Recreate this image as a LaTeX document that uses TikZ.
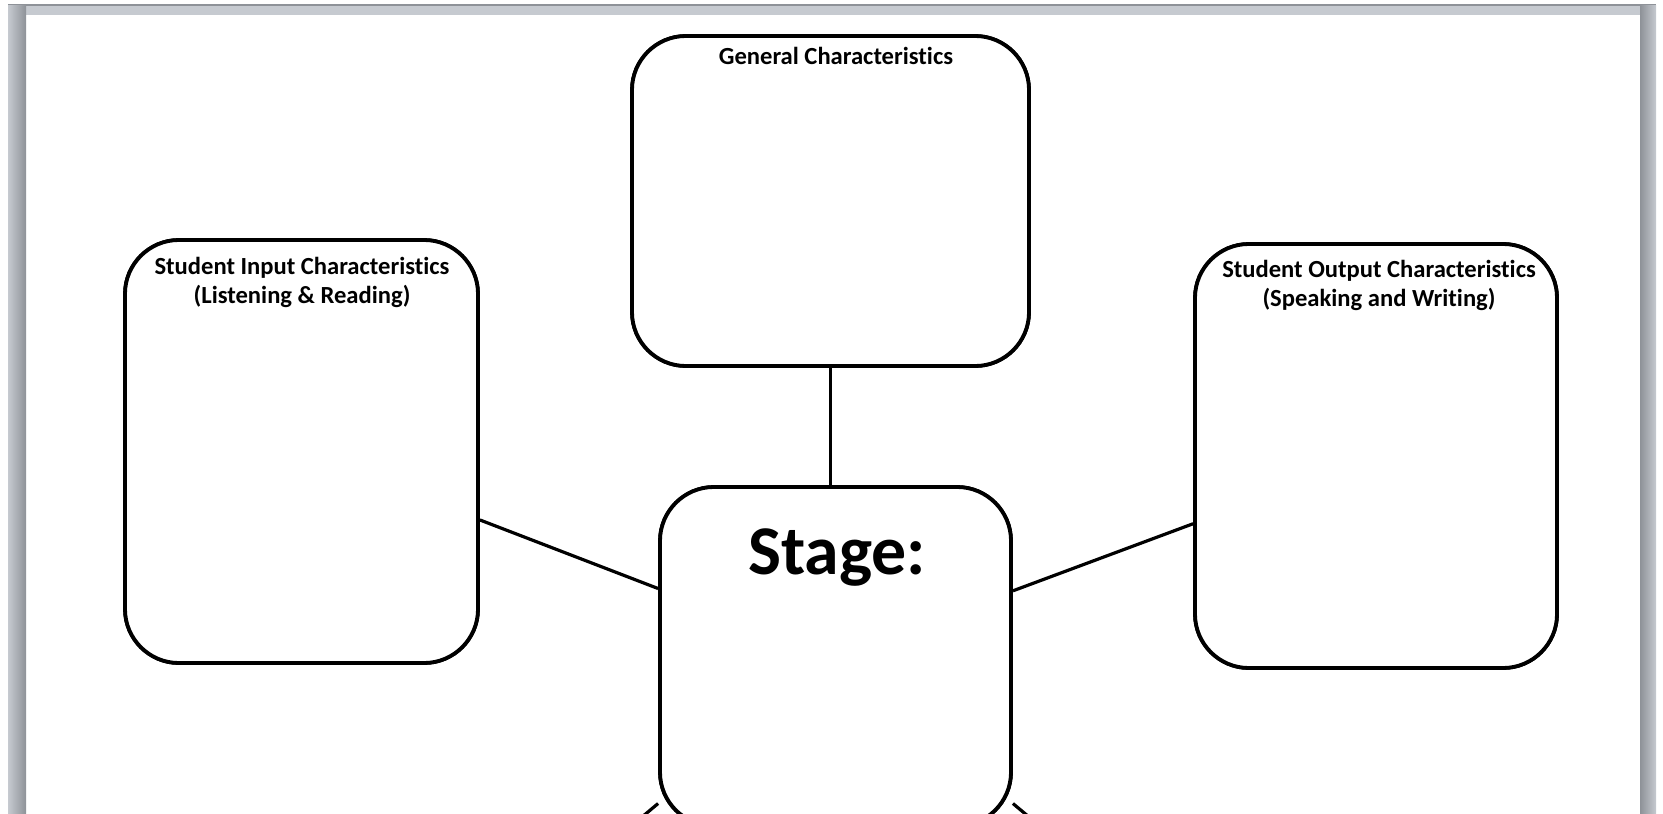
\documentclass[tikz,border=0pt]{standalone}
\usepackage{fontspec}
\setmainfont{Carlito}[Ligatures=NoCommon]
\begin{document}
\begin{tikzpicture}[x=0.5pt,y=-0.5pt,
  panel/.style={draw=black,line width=1.9pt,rounded corners=27pt,fill=white,inner sep=0pt},
  link/.style={draw=black,line width=1.6pt},
  head/.style={font=\bfseries\fontsize{12.3}{14.5}\selectfont,align=center,inner sep=0pt,anchor=center},
  chrome/.style={fill=frameGray,draw=none}]
\definecolor{frameGray}{HTML}{C6CAD0}
\definecolor{frameDark}{HTML}{8E9298}
\useasboundingbox (0,0) rectangle (1663,813);
\clip (0,0) rectangle (1663,813);
\fill[white] (0,0) rectangle (1663,813);
% window frame around the page
\fill[chrome] (8,4) rectangle (1656,15);
\fill[frameDark] (8,4) rectangle (1656,6);
\shade[left color=frameGray,right color=frameDark] (8,6) rectangle (26,813);
\shade[left color=frameDark,right color=frameGray] (1640,6) rectangle (1656,813);
% panels
\node[panel,minimum width=198.5pt,minimum height=165pt] (gen) at (830.5,201) {};
\node[panel,minimum width=176.5pt,minimum height=211.5pt] (inp) at (301.5,451.5) {};
\node[panel,minimum width=181pt,minimum height=212pt] (out) at (1376,456) {};
\node[panel,minimum width=175.5pt,minimum height=169.5pt] (stage) at (835.5,656.5) {};
% connectors
\draw[link] (gen.south) -- (gen.south |- stage.north);
\draw[link] (inp) -- (stage);
\draw[link] (out) -- (stage);
\coordinate (downL) at (630,827);
\coordinate (downR) at (1041,827);
\draw[link] (stage) -- (downL);
\draw[link] (stage) -- (downR);
% redraw panels over the connector ends
\node[panel,minimum width=198.5pt,minimum height=165pt] at (gen) {};
\node[panel,minimum width=176.5pt,minimum height=211.5pt] at (inp) {};
\node[panel,minimum width=181pt,minimum height=212pt] at (out) {};
\node[panel,minimum width=175.5pt,minimum height=169.5pt] at (stage) {};
% headings
\node[head] (genT) at (836,56) {General Characteristics};
\node[head] (inpT) at (302,282) {Student Input Characteristics\\(Listening \& Reading)};
\node[head] (outT) at (1379,285) {Student Output Characteristics\\(Speaking and Writing)};
\node[font=\bfseries\fontsize{34.9}{40}\selectfont,inner sep=0pt] (stageT) at (837,558) {Stage:};
\end{tikzpicture}
\end{document}
